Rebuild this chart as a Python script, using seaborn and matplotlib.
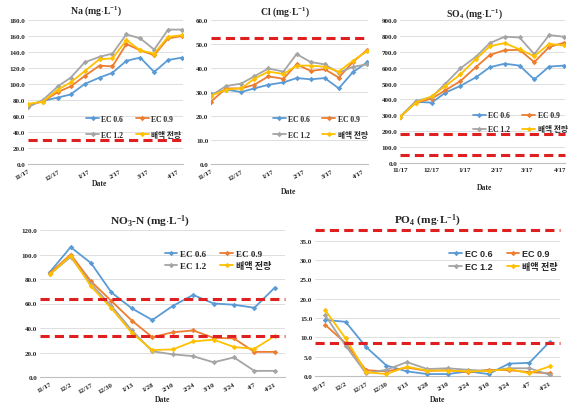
import pandas as pd
import seaborn as sns
import matplotlib.pyplot as plt
from matplotlib.ticker import FormatStrFormatter

# =========================
# Data
# =========================
SERIES = ["EC 0.6", "EC 0.9", "EC 1.2", "배액 전량"]
COLORS = ["#5B9BD5", "#ED7D31", "#A5A5A5", "#FFC000"]

# sampling dates: days after 11/17
SAMPLE_DAYS = [0, 15, 30, 43, 57, 72, 85, 99, 113, 127, 141, 155]
TOP_TICK_DAYS = [0, 30, 61, 92, 120, 151]
TOP_TICK_LABELS = ["11/17", "12/17", "1/17", "2/17", "3/17", "4/17"]
BOTTOM_LABELS = ["11/17", "12/2", "12/17", "12/30", "1/13", "1/28",
                 "2/10", "2/24", "3/10", "3/24", "4/7", "4/21"]

NA = {
    "EC 0.6": [73, 79, 83, 87, 100, 108, 114, 129, 133, 115, 130, 133],
    "EC 0.9": [74, 78, 90, 97, 110, 123, 122, 150, 142, 136, 157, 160],
    "EC 1.2": [71, 80, 97, 108, 127, 134, 138, 162, 157, 143, 168, 168],
    "배액 전량": [75, 78, 93, 102, 116, 131, 132, 155, 142, 138, 159, 161],
}
CL = {
    "EC 0.6": [29, 31, 30, 31.5, 33, 34, 35.8, 35.3, 35.8, 31.5, 38.3, 42.3],
    "EC 0.9": [26, 31.5, 31.5, 33, 36.5, 35.5, 41.5, 38.8, 39.5, 36, 42.5, 47.5],
    "EC 1.2": [28.5, 32.5, 33.5, 36.5, 39.8, 38.5, 45.8, 42.5, 41.5, 38, 40.5, 41.5],
    "배액 전량": [28.5, 31, 31.5, 35.5, 38.5, 37.5, 41, 41, 40.5, 38.5, 43, 47],
}
SO4 = {
    "EC 0.6": [290, 385, 380, 443, 485, 540, 603, 625, 613, 526, 607, 613],
    "EC 0.9": [290, 380, 405, 458, 515, 605, 680, 710, 712, 635, 730, 757],
    "EC 1.2": [290, 390, 415, 500, 595, 670, 755, 795, 790, 685, 805, 795],
    "배액 전량": [290, 380, 420, 485, 557, 655, 735, 755, 715, 672, 750, 740],
}
NO3 = {
    "EC 0.6": [86, 106, 93, 69, 56, 46.5, 58, 67, 60, 59, 56.5, 73],
    "EC 0.9": [85, 100, 78, 62, 46, 32.5, 36.5, 38, 32, 31.5, 20.5, 20.5],
    "EC 1.2": [84, 98, 76, 58, 38, 21, 18.5, 17, 12, 16, 5, 5],
    "배액 전량": [84, 99, 74, 56, 36, 22, 22.5, 29, 30.5, 24.5, 23, 33.5],
}
PO4 = {
    "EC 0.6": [14.5, 14, 7.5, 2.7, 1.2, 0.5, 0.5, 1.2, 0.5, 3.2, 3.4, 8.9],
    "EC 0.9": [13.2, 8.5, 1.5, 1.2, 2.2, 1.3, 1.5, 1.0, 1.6, 1.5, 1.0, 0.7],
    "EC 1.2": [15.7, 7.8, 0.7, 1.6, 3.6, 1.8, 2.0, 1.6, 1.3, 2.0, 2.0, 0.3],
    "배액 전량": [17, 9.7, 1.0, 0.5, 2.4, 1.4, 1.4, 1.2, 1.3, 1.8, 0.7, 2.5],
}

# reference (red dashed) levels
NA_REF = [30]
CL_REF = [52.5]
SO4_REF = [180, 50]
NO3_REF = [63.5, 33.5]
PO4_REF = [37.8, 8.5]

W, H = 580, 410
FONT = ["Liberation Serif", "Noto Sans CJK KR"]
SANS = ["Liberation Sans", "Noto Sans CJK KR"]


def to_long(data, xs):
    rows = []
    for name in SERIES:
        for x, v in zip(xs, data[name]):
            rows.append({"x": x, "value": v, "series": name})
    return pd.DataFrame(rows)


def add_axes(fig, left, right, top, bottom):
    return fig.add_axes([left / W, 1 - bottom / H, (right - left) / W, (bottom - top) / H])


def draw_panel(ax, data, xs, refs, ymax, ystep, ytop, legend_anchor,
               leg_size=5.5, leg_spacing=1.1, leg_family=FONT, handle_len=1.7):
    df = to_long(data, xs)
    sns.lineplot(data=df, x="x", y="value", hue="series", hue_order=SERIES,
                 palette=COLORS, marker="D", markersize=2.8, markeredgewidth=0,
                 linewidth=1.3, ax=ax, zorder=3)
    for r in refs:
        ax.axhline(r, color="#E02020", lw=2.2, ls=(0, (3, 1.7)), zorder=4, clip_on=False)

    ax.set_ylim(0, ytop)
    ax.set_yticks([i * ystep for i in range(int(round(ymax / ystep)) + 1)])
    ax.yaxis.set_major_formatter(FormatStrFormatter("%.1f"))
    ax.grid(axis="y", color="#D9D9D9", lw=0.6)
    ax.grid(axis="x", visible=False)
    for s in ["left", "right", "top"]:
        ax.spines[s].set_visible(False)
    ax.spines["bottom"].set_color("#BFBFBF")
    ax.spines["bottom"].set_linewidth(0.8)
    ax.tick_params(axis="y", length=0, labelsize=5, pad=2)
    ax.tick_params(axis="x", length=2, color="#BFBFBF", labelsize=5, pad=1)
    for lab in ax.get_yticklabels():
        lab.set_fontweight("bold")
    ax.set_xlabel("")
    ax.set_ylabel("")

    handles, labels = ax.get_legend_handles_labels()
    order = [0, 2, 1, 3]
    ax.legend([handles[i] for i in order], [labels[i] for i in order],
              loc="upper left", bbox_to_anchor=legend_anchor, ncol=2,
              frameon=False, handlelength=handle_len, columnspacing=1.6,
              labelspacing=leg_spacing, handletextpad=0.3,
              prop={"family": leg_family, "weight": "bold", "size": leg_size})


def main():
    sns.set_theme(style="white")
    plt.rcParams["font.family"] = FONT
    plt.rcParams["font.weight"] = "bold"
    plt.rcParams["mathtext.fontset"] = "custom"
    plt.rcParams["mathtext.rm"] = "Liberation Serif:bold"
    plt.rcParams["mathtext.it"] = "Liberation Serif:bold"
    plt.rcParams["mathtext.bf"] = "Liberation Serif:bold"
    plt.rcParams["mathtext.default"] = "rm"

    fig = plt.figure(figsize=(W / 100, H / 100), dpi=100)

    ax_na = add_axes(fig, 28, 183, 21, 165)
    ax_cl = add_axes(fig, 211, 368, 21, 165)
    ax_so = add_axes(fig, 400, 565, 21, 164)
    ax_no = add_axes(fig, 40, 285, 231, 378)
    ax_po = add_axes(fig, 315, 560, 226.5, 377)

    draw_panel(ax_na, NA, SAMPLE_DAYS, NA_REF, 180, 20, 180, (0.33, 0.39))
    draw_panel(ax_cl, CL, SAMPLE_DAYS, CL_REF, 60, 10, 60, (0.35, 0.39))
    draw_panel(ax_so, SO4, SAMPLE_DAYS, SO4_REF, 900, 100, 900, (0.40, 0.41),
               leg_spacing=0.8)
    idx = list(range(len(BOTTOM_LABELS)))
    draw_panel(ax_no, NO3, idx, NO3_REF, 120, 20, 120, (0.475, 0.92),
               leg_size=6.5, leg_spacing=0.35, handle_len=1.4)
    draw_panel(ax_po, PO4, idx, PO4_REF, 35, 5, 38.9, (0.515, 0.90),
               leg_size=6.5, leg_spacing=0.45, leg_family=SANS, handle_len=1.4)

    for ax, rot in [(ax_na, 30), (ax_cl, 30), (ax_so, 0)]:
        ax.set_xlim(0, 156)
        ax.set_xticks(TOP_TICK_DAYS)
        if rot:
            ax.set_xticklabels(TOP_TICK_LABELS, rotation=rot, ha="right",
                               rotation_mode="anchor", fontweight="bold")
        else:
            ax.set_xticklabels(TOP_TICK_LABELS, fontweight="bold")

    for ax in [ax_no, ax_po]:
        ax.set_xlim(-0.5, len(BOTTOM_LABELS) - 0.5)
        ax.set_xticks(idx)
        ax.set_xticklabels(BOTTOM_LABELS, rotation=30, ha="right",
                           rotation_mode="anchor", fontweight="bold")

    # titles and axis labels (placed like the original Excel charts)
    def ftext(x, y, s, size):
        fig.text(x / W, 1 - y / H, s, ha="center", va="center", fontsize=size,
                 fontweight="bold")

    ftext(96, 11, r"Na (mg$\cdot$L$^{-1}$)", 7)
    ftext(285, 12, r"Cl (mg$\cdot$L$^{-1}$)", 7)
    ftext(475, 14, r"SO$_4$ (mg$\cdot$L$^{-1}$)", 7)
    ftext(150, 222, r"NO$_3$-N (mg$\cdot$L$^{-1}$)", 8.2)
    ftext(427, 221, r"PO$_4$ (mg$\cdot$L$^{-1}$)", 8.2)

    ftext(100, 184, "Date", 5.5)
    ftext(289, 192, "Date", 5.5)
    ftext(485, 188, "Date", 5.5)
    ftext(163, 400, "Date", 5.5)
    ftext(438, 400, "Date", 5.5)

    fig.savefig("out.png", dpi=100, facecolor="white")
    plt.close(fig)


if __name__ == "__main__":
    main()
